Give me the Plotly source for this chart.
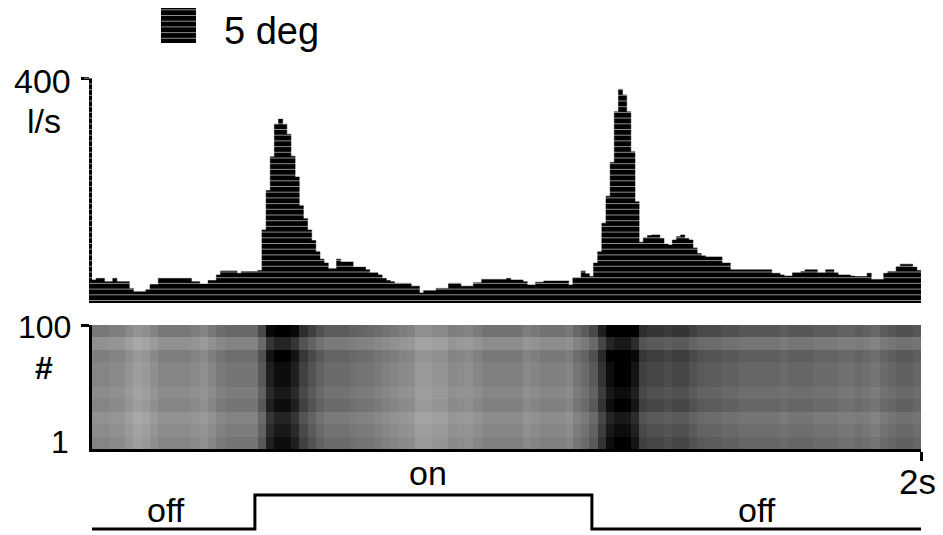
import plotly.graph_objects as go

# ---------------- data ----------------
BIN_W = 0.01  # s, PSTH bin width
PSTH_RATE = [
    41, 44, 44, 38, 38, 44, 38, 38, 38, 26,
    20, 20, 20, 24, 33, 33, 44, 44, 44, 44,
    44, 44, 44, 44, 38, 38, 34, 34, 40, 40,
    50, 57, 57, 57, 57, 53, 56, 56, 56, 56,
    58, 130, 200, 260, 318, 327, 318, 300, 261, 224,
    173, 150, 130, 111, 91, 78, 71, 61, 61, 78,
    73, 73, 73, 64, 64, 64, 59, 54, 54, 50,
    44, 40, 38, 35, 35, 35, 35, 30, 30, 18,
    22, 22, 22, 26, 26, 26, 35, 35, 35, 30,
    30, 30, 36, 36, 42, 42, 42, 42, 42, 42,
    44, 41, 41, 41, 38, 32, 32, 37, 37, 39,
    39, 39, 39, 39, 39, 32, 45, 45, 57, 52,
    47, 71, 91, 142, 190, 250, 340, 380, 370, 340,
    269, 180, 108, 116, 120, 121, 121, 115, 105, 103,
    112, 118, 121, 115, 112, 98, 88, 84, 82, 82,
    82, 82, 71, 71, 59, 59, 59, 59, 59, 59,
    59, 59, 59, 59, 53, 53, 50, 48, 48, 54,
    54, 56, 59, 59, 59, 54, 54, 59, 59, 54,
    50, 50, 50, 48, 47, 47, 47, 53, 42, 42,
    42, 53, 56, 56, 65, 69, 69, 69, 64, 58,
]

RASTER_COL_W = 0.02  # s
RASTER_COL_DENSITY = [
    0.48, 0.48, 0.46, 0.46, 0.42, 0.38, 0.40, 0.44, 0.48, 0.48,
    0.48, 0.48, 0.46, 0.44, 0.48, 0.52, 0.54, 0.54, 0.54, 0.54,
    0.65, 0.88, 0.95, 0.95, 0.88, 0.75, 0.68, 0.62, 0.58, 0.58,
    0.58, 0.56, 0.55, 0.54, 0.52, 0.50, 0.48, 0.46, 0.45, 0.40,
    0.40, 0.42, 0.42, 0.46, 0.45, 0.44, 0.47, 0.50, 0.50, 0.50,
    0.50, 0.50, 0.46, 0.48, 0.50, 0.50, 0.50, 0.48, 0.54, 0.58,
    0.65, 0.80, 0.95, 1.00, 1.00, 0.92, 0.75, 0.72, 0.72, 0.70,
    0.72, 0.72, 0.68, 0.65, 0.64, 0.64, 0.62, 0.62, 0.60, 0.60,
    0.60, 0.60, 0.60, 0.58, 0.60, 0.60, 0.60, 0.58, 0.58, 0.58,
    0.56, 0.56, 0.58, 0.56, 0.54, 0.58, 0.60, 0.62, 0.62, 0.60,
]
# trial bands of 10 trials, from trial 1 (bottom) to trial 100 (top)
RASTER_BAND_TRIALS = [5, 15, 25, 35, 45, 55, 65, 75, 85, 95]
RASTER_BAND_FACTOR = [1.0, 0.95, 0.9, 1.0, 0.95, 1.0, 1.0, 1.05, 0.9, 1.1]

STIM_TIMES = [0.0, 0.393, 1.206, 2.0]
STIM_LEVELS = [0, 1, 0, 0]
STIM_LABELS = ["off", "on", "off"]

LEGEND_LABEL = "5 deg"

# ---------------- geometry helpers ----------------
W, H = 943, 535
def px(x):
    return x / W
def py(y):
    return 1 - y / H

XDOM = [px(92), px(921)]
FONT = "Liberation Sans, Arial, sans-serif"

fig = go.Figure()

# PSTH
edges = [i * BIN_W for i in range(len(PSTH_RATE) + 1)]
fig.add_trace(go.Scatter(
    x=edges, y=PSTH_RATE + [PSTH_RATE[-1]], mode="lines", line_shape="hv",
    line=dict(color="black", width=0.5), fill="tozeroy", fillcolor="black",
    xaxis="x", yaxis="y", hoverinfo="skip", showlegend=False))

# raster (density map)
col_x = [RASTER_COL_W * (c + 0.5) for c in range(len(RASTER_COL_DENSITY))]
z = [[min(1.0, d * f) for d in RASTER_COL_DENSITY] for f in RASTER_BAND_FACTOR]
fig.add_trace(go.Heatmap(
    x=col_x, y=RASTER_BAND_TRIALS, z=z, zmin=0, zmax=1, zsmooth=False,
    colorscale=[[0, "#ffffff"], [1, "#000000"]], showscale=False,
    xaxis="x2", yaxis="y2", hoverinfo="skip"))

# stimulus trace
fig.add_trace(go.Scatter(
    x=STIM_TIMES, y=STIM_LEVELS, mode="lines", line_shape="hv",
    line=dict(color="black", width=3), xaxis="x3", yaxis="y3",
    hoverinfo="skip", showlegend=False))

axis_common = dict(showgrid=False, zeroline=False, linecolor="black",
                   tickcolor="black", showticklabels=False)

fig.update_layout(
    width=W, height=H, margin=dict(l=0, r=0, t=0, b=0),
    paper_bgcolor="white", plot_bgcolor="white", showlegend=False,
    xaxis=dict(domain=XDOM, range=[0, 2], visible=False, anchor="y"),
    yaxis=dict(domain=[py(303), py(78)], range=[0, 400], showline=True,
               linewidth=3, ticks="outside", tickvals=[400], ticklen=8,
               tickwidth=3, anchor="x", **axis_common),
    xaxis2=dict(domain=XDOM, range=[0, 2], showline=True, linewidth=3,
                ticks="outside", tickvals=[2], ticklen=9, tickwidth=3,
                anchor="y2", **axis_common),
    yaxis2=dict(domain=[py(449), py(325)], range=[0, 100], showline=True,
                linewidth=3, ticks="outside", tickvals=[100], ticklen=8,
                tickwidth=3, anchor="x2", **axis_common),
    xaxis3=dict(domain=XDOM, range=[0, 2], visible=False, anchor="y3"),
    yaxis3=dict(domain=[py(534.1), py(489.9)], range=[-0.15, 1.15],
                visible=False, anchor="x3"),
)

def ann(text, x, y, size, xanchor="center"):
    fig.add_annotation(text=text, x=px(x), y=py(y), xref="paper", yref="paper",
                       xanchor=xanchor, yanchor="middle", showarrow=False,
                       font=dict(family=FONT, size=size, color="black"))

# legend
fig.add_shape(type="rect", xref="paper", yref="paper",
              x0=px(161), x1=px(196), y0=py(43), y1=py(8),
              fillcolor="black", line=dict(width=0))
ann(LEGEND_LABEL, 222, 31, 38, "left")

# axis labels
ann("400", 73, 81, 34, "right")
ann("l/s", 44, 121, 34)
ann("100", 73, 327, 32, "right")
ann("<b>#</b>", 44, 368, 32)
ann("1", 71, 442, 32, "right")
ann("2s", 938, 481, 35, "right")

# stimulus labels
ann(STIM_LABELS[0], 166, 510, 34)
ann(STIM_LABELS[1], 428, 473, 34)
ann(STIM_LABELS[2], 757, 510, 34)

# faint horizontal scan lines over the histogram / legend square
yy = 300.5
while yy > 8:
    fig.add_shape(type="line", xref="paper", yref="paper", layer="above",
                  x0=px(84), x1=px(924), y0=py(yy), y1=py(yy),
                  line=dict(color="rgba(255,255,255,0.55)", width=1))
    yy -= 5.7

fig.write_html("out.html")
